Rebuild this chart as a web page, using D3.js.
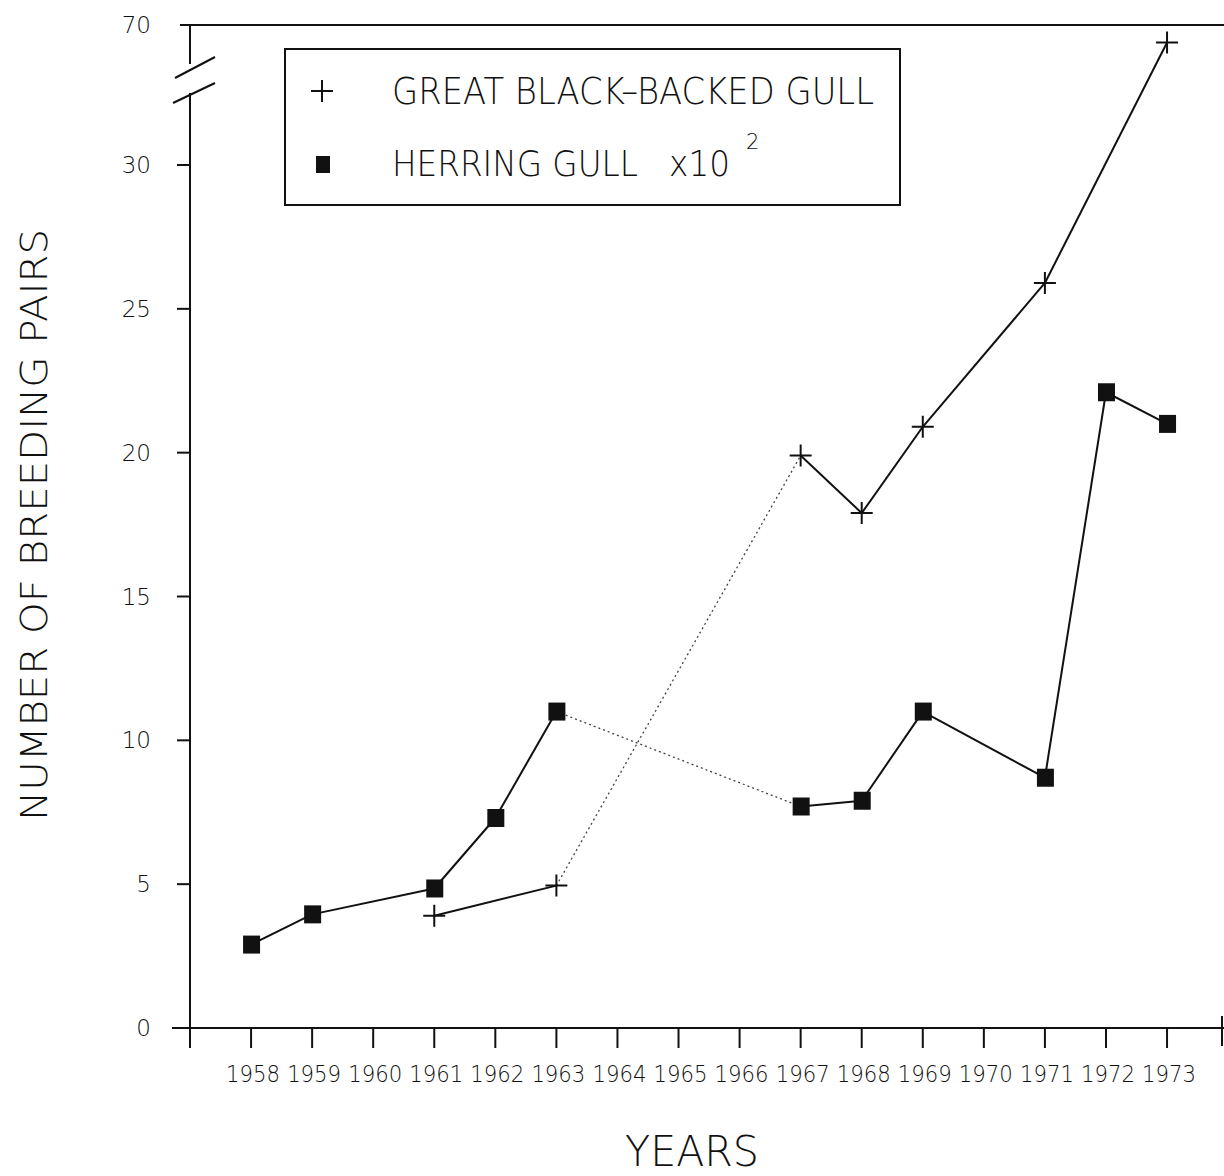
<!DOCTYPE html>
<html>
<head>
<meta charset="utf-8">
<script src="https://cdn.jsdelivr.net/npm/d3@7"></script>
<style>
  body { margin: 0; background: #fff; }
  text { font-family: "DejaVu Sans", "Liberation Sans", sans-serif; font-weight: 200; fill: #111; }
</style>
</head>
<body>
<svg id="chart" width="1224" height="1176"></svg>
<script>
// years on the x axis
const years = d3.range(1958, 1974);
const yTicks = [0, 5, 10, 15, 20, 25, 30];

// great black-backed gull (pairs)
const gbbYears = [1961, 1963, 1967, 1968, 1969, 1971, 1973];
const gbbValues = [3.9, 4.95, 19.9, 17.9, 20.9, 25.9, 65];

// herring gull (pairs x 10^2)
const hgYears = [1958, 1959, 1961, 1962, 1963, 1967, 1968, 1969, 1971, 1972, 1973];
const hgValues = [2.9, 3.95, 4.85, 7.3, 11.0, 7.7, 7.9, 11.0, 8.7, 22.1, 21.0];

const svg = d3.select('#chart');

const x = d3.scaleLinear().domain([1957, 1973.9]).range([190, 1222]);
// broken axis: 0-30 linear, then compressed up to 70
const y = d3.scaleLinear().domain([0, 30, 70]).range([1028, 165, 25]);

const g = svg.append('g').attr('stroke', '#111').attr('fill', 'none');

// top line and x axis line
g.append('line').attr('x1', 180).attr('x2', 1224).attr('y1', y(70)).attr('y2', y(70)).attr('stroke-width', 2);
g.append('line').attr('x1', 172).attr('x2', 1224).attr('y1', y(0)).attr('y2', y(0)).attr('stroke-width', 2);
// right end tick
g.append('line').attr('x1', 1222).attr('x2', 1222).attr('y1', y(0) - 12).attr('y2', y(0) + 18).attr('stroke-width', 2);

// y axis with break
g.append('line').attr('x1', x(1957)).attr('x2', x(1957)).attr('y1', y(70)).attr('y2', 64).attr('stroke-width', 2);
g.append('line').attr('x1', x(1957)).attr('x2', x(1957)).attr('y1', 93).attr('y2', y(0) + 20).attr('stroke-width', 2);
g.append('line').attr('x1', 175).attr('y1', 78).attr('x2', 215).attr('y2', 57).attr('stroke-width', 2);
g.append('line').attr('x1', 173).attr('y1', 103).attr('x2', 215).attr('y2', 83).attr('stroke-width', 2);

// y ticks
yTicks.forEach(v => {
  g.append('line').attr('x1', v === 0 ? 172 : 177).attr('x2', x(1957))
    .attr('y1', y(v)).attr('y2', y(v)).attr('stroke-width', 2);
});
svg.selectAll('.ylab').data(yTicks.concat([70])).enter().append('text')
  .attr('x', 151).attr('y', d => y(d) + 8)
  .attr('text-anchor', 'end').attr('font-size', 23)
  .text(d => d);

// x ticks
years.forEach(yr => {
  g.append('line').attr('x1', x(yr)).attr('x2', x(yr))
    .attr('y1', y(0)).attr('y2', y(0) + 20).attr('stroke-width', 2);
});
svg.selectAll('.xlab').data(years).enter().append('text')
  .attr('x', d => x(d) + 2).attr('y', 1082)
  .attr('text-anchor', 'middle').attr('font-size', 23)
  .attr('textLength', 54).attr('lengthAdjust', 'spacingAndGlyphs')
  .text(d => d);

// axis titles
svg.append('text').attr('x', 692).attr('y', 1166).attr('text-anchor', 'middle')
  .attr('font-size', 42).attr('textLength', 134).attr('lengthAdjust', 'spacingAndGlyphs')
  .text('YEARS');
svg.append('text').attr('transform', 'translate(47,525) rotate(-90)')
  .attr('text-anchor', 'middle').attr('font-size', 38)
  .attr('textLength', 592).attr('lengthAdjust', 'spacingAndGlyphs')
  .text('NUMBER OF BREEDING PAIRS');

// draw a series: solid between adjacent points, dotted across the 1964-66 gap
function drawSeries(yrs, vals) {
  for (let i = 1; i < yrs.length; i++) {
    const dotted = yrs[i] - yrs[i - 1] > 2;
    g.append('line')
      .attr('x1', x(yrs[i - 1])).attr('y1', y(vals[i - 1]))
      .attr('x2', x(yrs[i])).attr('y2', y(vals[i]))
      .attr('stroke', dotted ? '#444' : '#111')
      .attr('stroke-width', dotted ? 1.3 : 2)
      .attr('stroke-dasharray', dotted ? '2,3' : null);
  }
}
drawSeries(gbbYears, gbbValues);
drawSeries(hgYears, hgValues);

function cross(sel, cx, cy) {
  sel.append('path').attr('d', `M${cx - 11},${cy}H${cx + 11}M${cx},${cy - 11}V${cy + 11}`)
    .attr('stroke', '#111').attr('stroke-width', 2).attr('fill', 'none');
}
gbbYears.forEach((yr, i) => cross(svg, x(yr), y(gbbValues[i])));

svg.selectAll('.sq').data(hgYears).enter().append('rect')
  .attr('x', d => x(d) - 8).attr('y', (d, i) => y(hgValues[i]) - 9)
  .attr('width', 17).attr('height', 18).attr('fill', '#111');

// legend
svg.append('rect').attr('x', 285).attr('y', 49).attr('width', 615).attr('height', 156)
  .attr('fill', '#fff').attr('stroke', '#111').attr('stroke-width', 2);
cross(svg, 322, 91);
svg.append('rect').attr('x', 316).attr('y', 156).attr('width', 14).attr('height', 17).attr('fill', '#111');
svg.append('text').attr('x', 392).attr('y', 104).attr('font-size', 38)
  .attr('textLength', 482).attr('lengthAdjust', 'spacingAndGlyphs')
  .text('GREAT BLACK\u2013BACKED GULL');
svg.append('text').attr('x', 392).attr('y', 176).attr('font-size', 36)
  .attr('textLength', 338).attr('lengthAdjust', 'spacingAndGlyphs')
  .text('HERRING GULL\u00A0\u00A0\u00A0x10');
svg.append('text').attr('x', 746).attr('y', 149).attr('font-size', 21).text('2');
</script>
</body>
</html>
